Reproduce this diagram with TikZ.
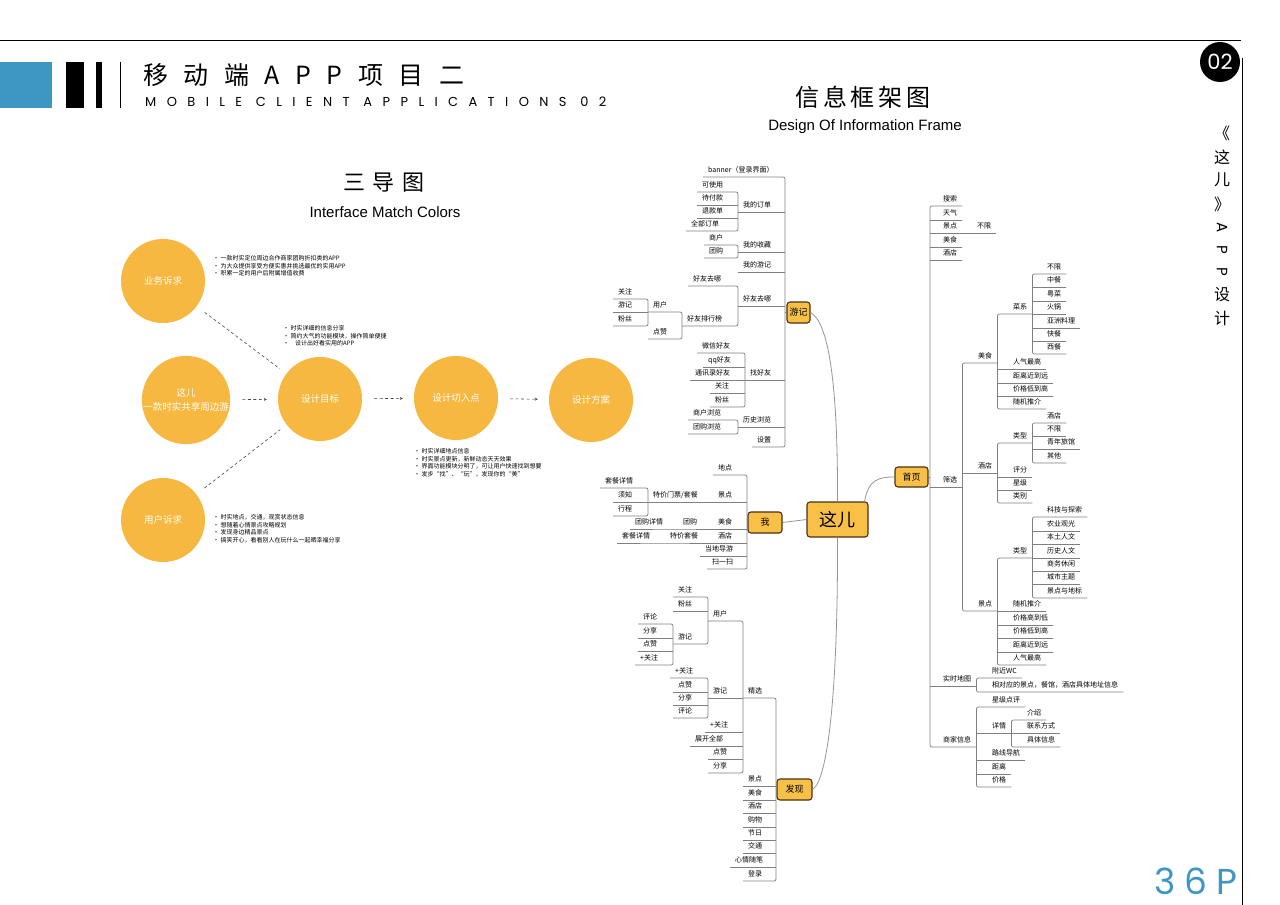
\documentclass[tikz,border=0pt]{standalone}
\usepackage{fontspec}
\setmainfont{Noto Sans CJK SC}
\newfontfamily\lib{Liberation Sans}
\newfontfamily\hdr[LetterSpace=80]{Poppins}
\newfontfamily\pgf[LetterSpace=25]{Poppins}
\newfontfamily\pops{Poppins}
\newfontfamily\cjksp[LetterSpace=62]{Noto Sans CJK SC}
\newfontfamily\cjkmid[LetterSpace=35]{Noto Sans CJK SC}
\newfontfamily\cjkti[LetterSpace=15]{Noto Sans CJK SC}
\usetikzlibrary{arrows.meta}
\definecolor{orng}{RGB}{246,184,64}
\definecolor{boxfill}{RGB}{248,192,70}
\definecolor{boxedge}{RGB}{70,50,20}
\definecolor{blu}{RGB}{62,150,194}
\definecolor{lgray}{RGB}{128,128,128}
\definecolor{cgray}{RGB}{150,150,150}
\definecolor{dgray}{RGB}{70,70,70}
\begin{document}
\begin{tikzpicture}[x=1pt,y=-1pt,
 tf/.style={anchor=south west, xshift=-5pt, inner xsep=5pt, inner ysep=4pt, text height=6pt, text depth=0pt, font=\fontsize{7}{8}\selectfont},
 br/.style={draw=lgray, line width=0.7pt, rounded corners=2pt},
 hub/.style={draw=boxedge, line width=1.1pt, fill=boxfill, rounded corners=3pt, inner sep=0pt, font=\fontsize{9}{10}\selectfont},
 conn/.style={draw=cgray, line width=0.8pt},
 circ/.style={circle, fill=orng, minimum size=84pt, inner sep=0pt, text=white, font=\fontsize{9.5}{14}\selectfont, align=center},
 bul/.style={anchor=west, inner sep=0pt, align=left, font=\fontsize{6}{7.5}\selectfont},
 dsh/.style={draw=dgray, line width=0.6pt, dash pattern=on 3pt off 2.5pt}
]
\fill[white] (0,0) rectangle (1280,905);
\useasboundingbox (0,0) rectangle (1280,905);

% ---------- frame / header ----------
\draw[line width=0.8pt] (0,40) -- (1241,40);
\draw[line width=1pt] (1242,58) -- (1242,905);
\node[circle, fill=black, minimum size=40pt, inner sep=0pt, text=white, font=\pops\fontsize{21}{21}\selectfont] (num) at (1220,62) {02};
\fill[blu] (0,62) rectangle (52,108);
\fill[black] (66,62) rectangle (84,108);
\fill[black] (96,62) rectangle (102,108);
\draw[line width=0.8pt] (120,62) -- (120,108);
\node[anchor=west, inner sep=0pt, font=\cjksp\fontsize{25}{25}\selectfont] (title) at (143,75) {移动端APP项目二};
\node[anchor=west, inner sep=0pt, font=\hdr\fontsize{13}{13}\selectfont] (subtitle) at (145,102) {MOBILE CLIENT APPLICATIONS 02};
\node[font=\cjkti\fontsize{24}{24}\selectfont, inner sep=0pt] (xxk) at (863,97) {信息框架图};
\node[font=\lib\fontsize{15}{15}\selectfont, inner sep=0pt] (xxken) at (865,127) {Design Of Information Frame};
\node[font=\cjkmid\fontsize{22}{22}\selectfont, inner sep=0pt] (sdt) at (384,183) {三导图};
\node[font=\lib\fontsize{15}{15}\selectfont, inner sep=0pt] (sdten) at (385,212) {Interface Match Colors};
\node[font=\pgf\fontsize{36}{36}\selectfont, text=blu, inner sep=0pt] (page) at (1196,881) {36P};
\foreach \t/\y in {《/133,这/157,儿/180,》/204}{
  \node[font=\fontsize{16}{16}\selectfont, inner sep=0pt] at (1222,\y) {\t};}
\foreach \t/\y in {A/228,P/250,P/272}{
  \node[font=\pops\fontsize{15}{15}\selectfont, inner sep=0pt, rotate=-90] at (1222,\y) {\t};}
\foreach \t/\y in {设/295,计/318}{
  \node[font=\fontsize{16}{16}\selectfont, inner sep=0pt] at (1222,\y) {\t};}

% ---------- left: circles ----------
\node[circ] (yw) at (163,281) {业务诉求};
\node[circ] (zr) at (186,400) {这儿\\一款时实共享周边游};
\node[circ] (mb) at (320,399) {设计目标};
\node[circ] (qr) at (456,398) {设计切入点};
\node[circ] (fa) at (591,400) {设计方案};
\node[circ] (yh) at (163,520) {用户诉求};
\draw[dsh, shorten <=10pt, shorten >=8pt] (yw) -- (mb);
\draw[dsh, shorten <=10pt, shorten >=8pt] (yh) -- (mb);
\draw[dsh, shorten <=12pt, shorten >=11pt, -{Stealth[length=3pt,width=3pt]}] (zr) -- (mb);
\draw[dsh, shorten <=12pt, shorten >=11pt, -{Stealth[length=3pt,width=3pt]}] (mb) -- (qr);
\draw[dsh, shorten <=12pt, shorten >=11pt, -{Stealth[length=3pt,width=3pt]}] (qr) -- (fa);

\node[bul] (t1) at (213,266) {• 一款时实定位周边合作商家团购折扣类的APP\\• 为大众提供享受方便实惠并挑选最优的实用APP\\• 积累一定的用户后附属增值收费};
\node[bul] (t2) at (283,336) {• 时实详细的信息分享\\• 简约大气的功能模块，操作简单便捷\\•\hspace{6pt}设计出好看实用的APP};
\node[bul] (t3) at (414,463) {• 时实详细地点信息\\• 时实景点更新，新鲜动态天天效果\\• 界面功能模块分明了，可让用户快速找到想要\\• 发步“找”、“玩”，发现你的“美”};
\node[bul] (t4) at (213,529) {• 时实地点，交通，观赏状态信息\\• 想随着心情景点攻略规划\\• 发现身边精品景点\\• 搞笑开心，看看别人在玩什么一起晒幸福分享};

% ---------- mind map hubs ----------
\node[hub, minimum width=61pt, minimum height=35pt, font=\fontsize{18}{18}\selectfont] (zher) at (837.5,519.5) {这儿};
\node[hub, minimum width=33pt, minimum height=20pt] (shouye) at (911.5,477) {首页};
\node[hub, minimum width=23pt, minimum height=21pt] (youji) at (798.5,312.5) {游记};
\node[hub, minimum width=34pt, minimum height=21pt] (wo) at (765,522.5) {我};
\node[hub, minimum width=35pt, minimum height=21pt] (faxian) at (794.5,789.5) {发现};
\draw[conn] ([xshift=-4pt]zher.north east) .. controls +(4,-22) and +(-16,0) .. (shouye.west);
\draw[conn] (zher.north) .. controls (838,380) and (828,322) .. (youji.east);
\draw[conn] (zher.south) .. controls (838,690) and (828,780) .. (faxian.east);
\draw[conn] (zher.west) -- (wo.east);
\coordinate (yjB) at (785,312.5);
\coordinate (woB) at (747,522.5);
\coordinate (fxB) at (776,789.5);
\coordinate (syB) at (930,477);
\draw[br] (youji.west) -- (yjB);
\draw[br] (wo.west) -- (woB);
\draw[br] (faxian.west) -- (fxB);
\draw[br] (shouye.east) -- (syB);

% ---------- 游记 ----------
\node[tf] (yj1) at (708,177) {banner（登录界面）};
\node[tf] (yj2) at (743,212) {我的订单};
\node[tf] (yj2a) at (702,192) {可使用};
\node[tf] (yj2b) at (702,205) {待付款};
\node[tf] (yj2c) at (702,218) {退款单};
\node[tf] (yj2d) at (691,231) {全部订单};
\node[tf] (yj3) at (743,252) {我的收藏};
\node[tf] (yj3a) at (709,245) {商户};
\node[tf] (yj3b) at (709,258) {团购};
\node[tf] (yj4) at (743,272) {我的游记};
\node[tf] (yj5) at (743,306) {好友去哪};
\node[tf] (yj5a) at (693,286) {好友去哪};
\node[tf] (yj5b) at (687,326) {好友排行榜};
\node[tf] (yj5c) at (653,312) {用户};
\node[tf] (yj5d) at (653,339) {点赞};
\node[tf] (yj5e) at (618,299) {关注};
\node[tf] (yj5f) at (618,312) {游记};
\node[tf] (yj5g) at (618,326) {粉丝};
\node[tf] (yj6) at (750,380) {找好友};
\node[tf] (yj6a) at (702,353) {微信好友};
\node[tf] (yj6b) at (708,367) {qq好友};
\node[tf] (yj6c) at (695,380) {通讯录好友};
\node[tf] (yj6d) at (715,393) {关注};
\node[tf] (yj6e) at (715,407) {粉丝};
\node[tf] (yj7) at (743,427) {历史浏览};
\node[tf] (yj7a) at (693,420) {商户浏览};
\node[tf] (yj7b) at (693,434) {团购浏览};
\node[tf] (yj8) at (757,447) {设置};
\draw[br] (yj1.south west) -| (yjB) |- (yj8.south west);
\foreach \c in {yj2,yj3,yj4,yj5,yj6,yj7} \draw[br] (\c.south west) -- (\c.south west -| yjB);
\draw[br] (yj2a.south west) -| (yj2.south west) |- (yj2d.south west);
\foreach \c in {yj2b,yj2c} \draw[br] (\c.south west) -- (\c.south west -| yj2.south west);
\draw[br] (yj3a.south west) -| (yj3.south west) |- (yj3b.south west);
\draw[br] (yj5a.south west) -| (yj5.south west) |- (yj5b.south west);
\draw[br] (yj5c.south west) -| (yj5b.south west) |- (yj5d.south west);
\draw[br] (yj5e.south west) -| (yj5c.south west) |- (yj5g.south west);
\draw[br] (yj5f.south west) -- (yj5f.south west -| yj5c.south west);
\draw[br] (yj6a.south west) -| (yj6.south west) |- (yj6e.south west);
\foreach \c in {yj6b,yj6c,yj6d} \draw[br] (\c.south west) -- (\c.south west -| yj6.south west);
\draw[br] (yj7a.south west) -| (yj7.south west) |- (yj7b.south west);

% ---------- 我 ----------
\node[tf] (wo1) at (718,475) {地点};
\node[tf] (wo2) at (718,502) {景点};
\node[tf] (wo2a) at (653,502) {特价门票/套餐};
\node[tf] (wo2b) at (605,488) {套餐详情};
\node[tf] (wo2c) at (618,502) {须知};
\node[tf] (wo2d) at (618,516) {行程};
\node[tf] (wo3) at (718,529) {美食};
\node[tf] (wo3a) at (683,529) {团购};
\node[tf] (wo3b) at (635,529) {团购详情};
\node[tf] (wo4) at (718,543) {酒店};
\node[tf] (wo4a) at (670,543) {特价套餐};
\node[tf] (wo4b) at (622,543) {套餐详情};
\node[tf] (wo5) at (705,556) {当地导游};
\node[tf] (wo6) at (712,569) {扫一扫};
\draw[br] (wo1.south west) -| (woB) |- (wo6.south west);
\foreach \c in {wo2,wo3,wo4,wo5} \draw[br] (\c.south west) -- (\c.south west -| woB);
\draw[br] (wo2a.south west) -- (wo2.south west);
\draw[br] (wo2b.south west) -| (wo2a.south west) |- (wo2d.south west);
\draw[br] (wo2c.south west) -- (wo2a.south west);
\draw[br] (wo3b.south west) -- (wo3a.south west) -- (wo3.south west);
\draw[br] (wo4b.south west) -- (wo4a.south west) -- (wo4.south west);

% ---------- 发现 ----------
\node[tf] (fx1) at (748,698) {精选};
\node[tf] (fx1a) at (713,621) {用户};
\node[tf] (fx1a1) at (678,597) {关注};
\node[tf] (fx1a2) at (678,611) {粉丝};
\node[tf] (fx1a3) at (678,644) {游记};
\node[tf] (fx1a3a) at (643,624) {评论};
\node[tf] (fx1a3b) at (643,638) {分享};
\node[tf] (fx1a3c) at (643,651) {点赞};
\node[tf] (fx1a3d) at (640,665) {+关注};
\node[tf] (fx1b) at (713,698) {游记};
\node[tf] (fx1b1) at (675,678) {+关注};
\node[tf] (fx1b2) at (678,692) {点赞};
\node[tf] (fx1b3) at (678,705) {分享};
\node[tf] (fx1b4) at (678,718) {评论};
\node[tf] (fx1c) at (710,732) {+关注};
\node[tf] (fx1d) at (695,746) {展开全部};
\node[tf] (fx1e) at (713,759) {点赞};
\node[tf] (fx1f) at (713,773) {分享};
\node[tf] (fx2) at (748,786) {景点};
\node[tf] (fx3) at (748,800) {美食};
\node[tf] (fx4) at (748,813) {酒店};
\node[tf] (fx5) at (748,827) {购物};
\node[tf] (fx6) at (748,840) {节日};
\node[tf] (fx7) at (748,853) {交通};
\node[tf] (fx8) at (735,867) {心情随笔};
\node[tf] (fx9) at (748,881) {登录};
\draw[br] (fx1.south west) -| (fxB) |- (fx9.south west);
\foreach \c in {fx2,fx3,fx4,fx5,fx6,fx7,fx8} \draw[br] (\c.south west) -- (\c.south west -| fxB);
\draw[br] (fx1a.south west) -| (fx1.south west) |- (fx1f.south west);
\foreach \c in {fx1b,fx1c,fx1d,fx1e} \draw[br] (\c.south west) -- (\c.south west -| fx1.south west);
\draw[br] (fx1a1.south west) -| (fx1a.south west) |- (fx1a3.south west);
\draw[br] (fx1a2.south west) -- (fx1a2.south west -| fx1a.south west);
\draw[br] (fx1a3a.south west) -| (fx1a3.south west) |- (fx1a3d.south west);
\foreach \c in {fx1a3b,fx1a3c} \draw[br] (\c.south west) -- (\c.south west -| fx1a3.south west);
\draw[br] (fx1b1.south west) -| (fx1b.south west) |- (fx1b4.south west);
\foreach \c in {fx1b2,fx1b3} \draw[br] (\c.south west) -- (\c.south west -| fx1b.south west);

% ---------- 首页 ----------
\node[tf] (sy1) at (943,206) {搜索};
\node[tf] (sy2) at (943,220) {天气};
\node[tf] (sy3) at (943,233) {景点};
\node[tf] (sy3a) at (977,233) {不限};
\node[tf] (sy4) at (943,247) {美食};
\node[tf] (sy5) at (943,260) {酒店};
\node[tf] (sy6) at (943,487) {筛选};
\node[tf] (sy7) at (943,686) {实时地图};
\node[tf] (sy8) at (943,747) {商家信息};
\node[tf] (ms) at (978,363) {美食};
\node[tf] (ms1) at (1013,314) {菜系};
\node[tf] (cx1) at (1047,274) {不限};
\node[tf] (cx2) at (1047,287) {中餐};
\node[tf] (cx3) at (1047,301) {粤菜};
\node[tf] (cx4) at (1047,314) {火锅};
\node[tf] (cx5) at (1047,328) {亚洲料理};
\node[tf] (cx6) at (1047,341) {快餐};
\node[tf] (cx7) at (1047,354) {西餐};
\node[tf] (ms2) at (1013,369) {人气最高};
\node[tf] (ms3) at (1013,383) {距离近到远};
\node[tf] (ms4) at (1013,396) {价格低到高};
\node[tf] (ms5) at (1013,409) {随机推介};
\node[tf] (jd) at (978,473) {酒店};
\node[tf] (jd1) at (1013,443) {类型};
\node[tf] (lx1) at (1047,423) {酒店};
\node[tf] (lx2) at (1047,436) {不限};
\node[tf] (lx3) at (1047,449) {青年旅馆};
\node[tf] (lx4) at (1047,463) {其他};
\node[tf] (jd2) at (1013,477) {评分};
\node[tf] (jd3) at (1013,490) {星级};
\node[tf] (jd4) at (1013,503) {类别};
\node[tf] (jq) at (978,611) {景点};
\node[tf] (jq1) at (1013,558) {类型};
\node[tf] (kt1) at (1047,517) {科技与探索};
\node[tf] (kt2) at (1047,531) {农业观光};
\node[tf] (kt3) at (1047,544) {本土人文};
\node[tf] (kt4) at (1047,558) {历史人文};
\node[tf] (kt5) at (1047,571) {商务休闲};
\node[tf] (kt6) at (1047,584) {城市主题};
\node[tf] (kt7) at (1047,598) {景点与地标};
\node[tf] (jq2) at (1013,611) {随机推介};
\node[tf] (jq3) at (1013,625) {价格高到低};
\node[tf] (jq4) at (1013,638) {价格低到高};
\node[tf] (jq5) at (1013,652) {距离近到远};
\node[tf] (jq6) at (1013,665) {人气最高};
\node[tf] (ss1) at (992,678) {附近WC};
\node[tf] (ss2) at (992,692) {相对应的景点，餐馆，酒店具体地址信息};
\node[tf] (sj1) at (992,707) {星级点评};
\node[tf] (sj2) at (992,733) {详情};
\node[tf] (xq1) at (1027,720) {介绍};
\node[tf] (xq2) at (1027,733) {联系方式};
\node[tf] (xq3) at (1027,747) {具体信息};
\node[tf] (sj3) at (992,760) {路线导航};
\node[tf] (sj4) at (992,774) {距离};
\node[tf] (sj5) at (992,787) {价格};
\draw[br] (sy1.south east) -| (syB) |- (sy8.south east);
\foreach \c in {sy2,sy3,sy4,sy5,sy6,sy7} \draw[br] (\c.south east) -- (\c.south east -| syB);
\draw[br] (sy3.south east) -- (sy3a.south east);
\draw[br] (ms.south east) -| (sy6.south east) |- (jq.south east);
\draw[br] (jd.south east) -- (jd.south east -| sy6.south east);
\draw[br] (ms1.south east) -| (ms.south east) |- (ms5.south east);
\foreach \c in {ms2,ms3,ms4} \draw[br] (\c.south east) -- (\c.south east -| ms.south east);
\draw[br] (cx1.south east) -| (ms1.south east) |- (cx7.south east);
\foreach \c in {cx2,cx3,cx4,cx5,cx6} \draw[br] (\c.south east) -- (\c.south east -| ms1.south east);
\draw[br] (jd1.south east) -| (jd.south east) |- (jd4.south east);
\foreach \c in {jd2,jd3} \draw[br] (\c.south east) -- (\c.south east -| jd.south east);
\draw[br] (lx1.south east) -| (jd1.south east) |- (lx4.south east);
\foreach \c in {lx2,lx3} \draw[br] (\c.south east) -- (\c.south east -| jd1.south east);
\draw[br] (jq1.south east) -| (jq.south east) |- (jq6.south east);
\foreach \c in {jq2,jq3,jq4,jq5} \draw[br] (\c.south east) -- (\c.south east -| jq.south east);
\draw[br] (kt1.south east) -| (jq1.south east) |- (kt7.south east);
\foreach \c in {kt2,kt3,kt4,kt5,kt6} \draw[br] (\c.south east) -- (\c.south east -| jq1.south east);
\draw[br] (ss1.south east) -| (sy7.south east) |- (ss2.south east);
\draw[br] (sj1.south east) -| (sy8.south east) |- (sj5.south east);
\foreach \c in {sj2,sj3,sj4} \draw[br] (\c.south east) -- (\c.south east -| sy8.south east);
\draw[br] (xq1.south east) -| (sj2.south east) |- (xq3.south east);
\draw[br] (xq2.south east) -- (xq2.south east -| sj2.south east);
\end{tikzpicture}
\end{document}
